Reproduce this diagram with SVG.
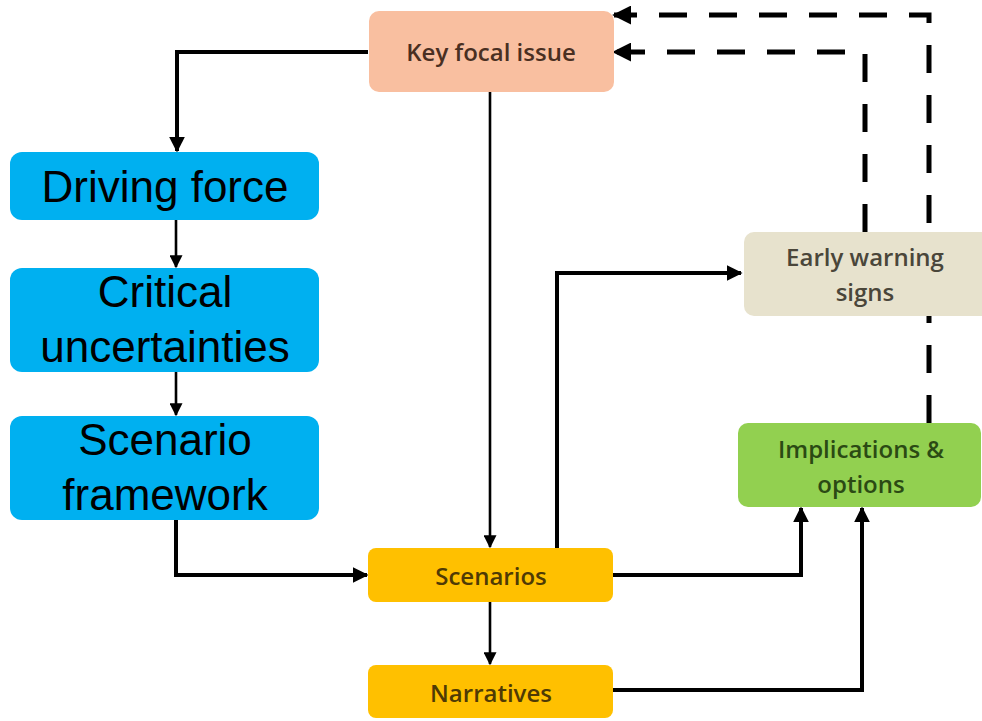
<svg xmlns="http://www.w3.org/2000/svg" width="982" height="721" viewBox="0 0 982 721">
  <defs>
    <marker id="head" viewBox="0 0 10 10" refX="9" refY="5" markerWidth="4" markerHeight="4" markerUnits="strokeWidth" orient="auto">
      <path d="M0,0 L10,5 L0,10 Z" fill="#000"/>
    </marker>
    <marker id="headThin" viewBox="0 0 10 10" refX="9" refY="5" markerWidth="5" markerHeight="5" markerUnits="strokeWidth" orient="auto">
      <path d="M0,0 L10,5 L0,10 Z" fill="#000"/>
    </marker>
    <marker id="headDash" viewBox="0 0 10 10" refX="9" refY="5" markerWidth="3.8" markerHeight="3.8" markerUnits="strokeWidth" orient="auto">
      <path d="M0,0 L10,5 L0,10 Z" fill="#000"/>
    </marker>
  </defs>
  <style>
    .conn { fill: none; stroke: #000; stroke-width: 4; stroke-linejoin: miter; }
    .thin { stroke-width: 2.6; }
    .dash { stroke-width: 5; stroke-dasharray: 28 22; }
    .big { font-family: "Liberation Sans", Arial, sans-serif; font-size: 44px; fill: #000; text-anchor: middle; }
    .small { font-family: "Open Sans", "Liberation Sans", sans-serif; font-size: 24px; font-weight: 600; text-anchor: middle; }
  </style>

  <g id="connectors">
    <!-- feedback loops (dashed) -->
    <path class="conn dash" d="M929,423 L929,15 L614,15" marker-end="url(#headDash)"/>
    <path class="conn dash" d="M865,232 L865,52 L614,52" marker-end="url(#headDash)"/>
    <!-- focal issue to driving forces -->
    <path class="conn" d="M368,52 L177,52 L177,151" marker-end="url(#head)"/>
    <path class="conn thin" d="M176,220 L176,267" marker-end="url(#headThin)"/>
    <path class="conn thin" d="M176,372 L176,415" marker-end="url(#headThin)"/>
    <path class="conn" d="M176,520 L176,575 L367,575" marker-end="url(#head)"/>
    <!-- focal issue to scenarios -->
    <path class="conn thin" d="M490,92 L490,547" marker-end="url(#headThin)"/>
    <path class="conn thin" d="M490,602 L490,664" marker-end="url(#headThin)"/>
    <!-- scenarios to early warning signs -->
    <path class="conn" d="M557,548 L557,273 L741,273" marker-end="url(#head)"/>
    <!-- to implications & options -->
    <path class="conn" d="M613,575 L801,575 L801,508" marker-end="url(#head)"/>
    <path class="conn" d="M613,690 L862,690 L862,508" marker-end="url(#head)"/>
  </g>

  <g id="key-focal-issue">
    <rect x="369" y="11" width="245" height="81" rx="10" fill="#F9BFA0"/>
    <text class="small" x="491" y="61" fill="#4A2F22">Key focal issue</text>
  </g>

  <g id="driving-force">
    <rect x="10" y="152" width="309" height="68" rx="12" fill="#00B0F0"/>
    <text class="big" x="165" y="202">Driving force</text>
  </g>

  <g id="critical-uncertainties">
    <rect x="10" y="268" width="309" height="104" rx="12" fill="#00B0F0"/>
    <text class="big" x="165" y="307">Critical</text>
    <text class="big" x="165" y="362">uncertainties</text>
  </g>

  <g id="scenario-framework">
    <rect x="10" y="416" width="309" height="104" rx="12" fill="#00B0F0"/>
    <text class="big" x="165" y="455">Scenario</text>
    <text class="big" x="165" y="510">framework</text>
  </g>

  <g id="early-warning-signs">
    <rect x="744" y="232" width="250" height="84" rx="10" fill="#E7E2CD"/>
    <text class="small" x="865" y="266" fill="#4A463A">Early warning</text>
    <text class="small" x="865" y="301" fill="#4A463A">signs</text>
  </g>

  <g id="implications-options">
    <rect x="738" y="423" width="243" height="84" rx="10" fill="#92D050"/>
    <text class="small" x="861" y="458" fill="#2B4A14">Implications &amp;</text>
    <text class="small" x="861" y="493" fill="#2B4A14">options</text>
  </g>

  <g id="scenarios">
    <rect x="368" y="548" width="245" height="54" rx="8" fill="#FFC000"/>
    <text class="small" x="491" y="585" fill="#4F3A05">Scenarios</text>
  </g>

  <g id="narratives">
    <rect x="368" y="665" width="245" height="53" rx="8" fill="#FFC000"/>
    <text class="small" x="491" y="702" fill="#4F3A05">Narratives</text>
  </g>
</svg>
